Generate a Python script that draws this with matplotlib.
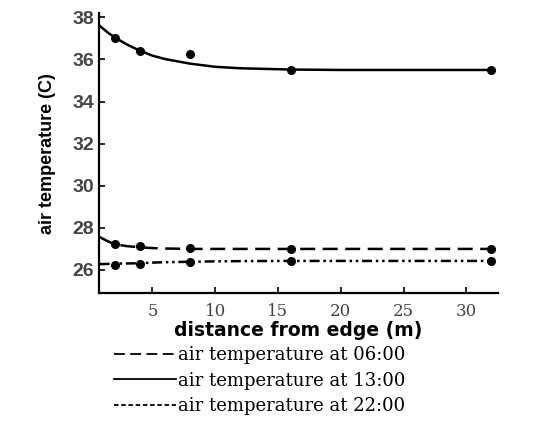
import matplotlib
matplotlib.use("Agg")
import matplotlib.pyplot as plt
from matplotlib.lines import Line2D

# measured points
dist = [2, 4, 8, 16, 32]
t06 = [27.25, 27.15, 27.05, 27.0, 27.0]
t13 = [37.0, 36.4, 36.25, 35.5, 35.5]
t22 = [26.25, 26.3, 26.37, 26.43, 26.43]

# fitted curves
fit_x = [0.8, 1, 1.5, 2, 3, 4, 5, 6, 8, 10, 12, 16, 20, 32]
fit06 = [27.57, 27.5, 27.35, 27.22, 27.13, 27.08, 27.04, 27.02, 27.0, 27.0, 27.0, 27.0, 27.0, 27.0]
fit13 = [37.6, 37.5, 37.25, 37.05, 36.7, 36.42, 36.18, 36.02, 35.8, 35.65, 35.58, 35.52, 35.5, 35.5]
fit22 = [26.28, 26.28, 26.29, 26.3, 26.31, 26.32, 26.35, 26.37, 26.39, 26.41, 26.42, 26.43, 26.43, 26.43]

labels = ["air temperature at 06:00", "air temperature at 13:00", "air temperature at 22:00"]
styles = [(0, (6, 3)), "-", (0, (4, 1.5, 1, 1.5, 1, 1.5))]

fig = plt.figure(figsize=(5.44, 4.23), dpi=100)
ax = fig.add_axes([0.182, 0.307, 0.733, 0.662])

for fx, fy, px, py, ls in [(fit_x, fit06, dist, t06, styles[0]),
                           (fit_x, fit13, dist, t13, styles[1]),
                           (fit_x, fit22, dist, t22, styles[2])]:
    ax.plot(fx, fy, color="black", linestyle=ls, linewidth=1.8)
    ax.plot(px, py, "o", color="black", markersize=5.5)

ax.set_xlim(0.75, 32.5)
ax.set_ylim(24.9, 38.2)
ax.set_xticks([5, 10, 15, 20, 25, 30])
ax.set_yticks([26, 28, 30, 32, 34, 36, 38])
ax.spines["top"].set_visible(False)
ax.spines["right"].set_visible(False)
for s in ["left", "bottom"]:
    ax.spines[s].set_linewidth(1.6)
ax.tick_params(direction="in", length=4, width=1.2)
ax.tick_params(axis="x", pad=7)
for lab in ax.get_yticklabels():
    lab.set_fontfamily("Liberation Sans")
    lab.set_fontsize(14)
    lab.set_fontweight("bold")
    lab.set_color("#444444")
for lab in ax.get_xticklabels():
    lab.set_fontfamily("DejaVu Serif")
    lab.set_fontsize(12)
    lab.set_color("#444444")

ax.set_ylabel("air temperature (C)", fontsize=13, fontweight="bold",
              fontfamily="Liberation Sans", labelpad=12)
ax.set_xlabel("distance from edge (m)", fontsize=13.5, fontweight="bold",
              fontfamily="DejaVu Sans", labelpad=1)

handles = [Line2D([], [], color="black", linestyle=styles[0], linewidth=1.3),
           Line2D([], [], color="black", linestyle=styles[1], linewidth=1.3),
           Line2D([], [], color="black", linestyle=(0, (2.5, 1.5)), linewidth=1.3)]
fig.legend(handles, labels, loc="upper left", bbox_to_anchor=(0.21, 0.182),
           frameon=False, prop={"family": "DejaVu Serif", "size": 13},
           handlelength=3.4, handletextpad=0.15, labelspacing=0.42,
           borderpad=0, borderaxespad=0)

fig.savefig("out.png", dpi=100)
